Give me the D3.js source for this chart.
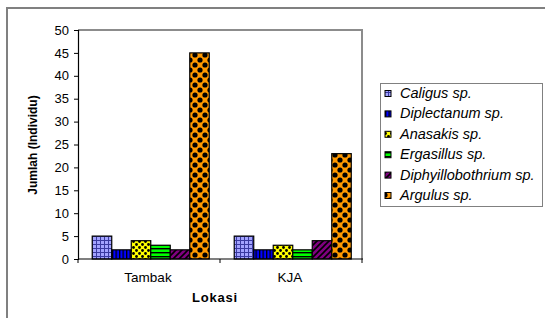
<!DOCTYPE html>
<html><head><meta charset="utf-8">
<script src="https://cdn.jsdelivr.net/npm/d3@7"></script>
<style>body{margin:0;background:#fff}svg{display:block;font-family:"Liberation Sans",Arial,sans-serif}</style>
</head><body><svg id="c" width="545" height="318"></svg>
<script>
const categories = ["Tambak", "KJA"];
const series = ["Caligus sp.", "Diplectanum sp.", "Anasakis sp.", "Ergasillus sp.", "Diphyillobothrium sp.", "Argulus sp."];
const valuesTambak = [5, 2, 4, 3, 2, 45];
const valuesKJA = [5, 2, 3, 2, 4, 23];
const yTicks = [0, 5, 10, 15, 20, 25, 30, 35, 40, 45, 50];
const values = [valuesTambak, valuesKJA];

const svg = d3.select("#c");
const defs = svg.append("defs");
function pat(id, w, h, bg, draw) {
  const p = defs.append("pattern").attr("id", id).attr("patternUnits", "userSpaceOnUse").attr("width", w).attr("height", h);
  p.append("rect").attr("width", w).attr("height", h).attr("fill", bg);
  draw(p);
}
pat("p0", 4, 4, "#a3a3ff", p => p.append("path").attr("d", "M0,0.5H4M0.5,0V4").attr("stroke", "#3a3aa0").attr("stroke-width", 1));
pat("p1", 3.5, 4, "#0000ff", p => p.append("rect").attr("x", 0).attr("width", 1.3).attr("height", 4).attr("fill", "#000"));
pat("p2", 6, 6, "#ffff00", p => { p.append("circle").attr("cx", 1.5).attr("cy", 1.5).attr("r", 1.4).attr("fill", "#000"); p.append("circle").attr("cx", 4.5).attr("cy", 4.5).attr("r", 1.4).attr("fill", "#000"); });
pat("p3", 4, 4, "#00ff00", p => p.append("rect").attr("y", 0).attr("width", 4).attr("height", 1.4).attr("fill", "#000"));
pat("p4", 6, 6, "#800080", p => p.append("path").attr("d", "M-1,7L7,-1M-1,1L1,-1M5,7L7,5").attr("stroke", "#000").attr("stroke-width", 1.6));
pat("p5", 10, 10, "#ff9900", p => {
  [[0,0],[10,0],[0,10],[10,10],[5,5]].forEach(([cx,cy]) => p.append("circle").attr("cx", cx).attr("cy", cy).attr("r", 2.6).attr("fill", "#000"));
});

// outer frame
svg.append("rect").attr("x", 7).attr("y", 8).attr("width", 600).attr("height", 400).attr("fill", "none").attr("stroke", "#808080").attr("stroke-width", 2);

const L = 78, R = 362, T = 30, B = 259;
const y = d3.scaleLinear().domain([0, 50]).range([B, T]);
const x0 = d3.scaleBand().domain(categories).range([L, R]).paddingInner(0).paddingOuter(0);
const x1 = d3.scaleBand().domain(series).range([0, x0.bandwidth()]).paddingInner(0).paddingOuter(0.64).align(0.57);

// plot border (top and right gray)
svg.append("path").attr("d", `M${L},${T}H${R}V${B}`).attr("fill", "none").attr("stroke", "#8c8c8c").attr("stroke-width", 2);

// bars
const g = svg.append("g");
categories.forEach((c, ci) => {
  series.forEach((s, si) => {
    const v = values[ci][si];
    g.append("rect")
      .attr("x", x0(c) + x1(s)).attr("y", y(v))
      .attr("width", x1.bandwidth()).attr("height", y(0) - y(v))
      .attr("fill", `url(#p${si})`).attr("stroke", "#000").attr("stroke-width", 1.2);
  });
});

// y axis
const ya = svg.append("g").attr("transform", `translate(${L},0)`)
  .call(d3.axisLeft(y).tickValues(yTicks).tickSize(4).tickPadding(5));
ya.select(".domain").attr("stroke", "#000").attr("stroke-width", 1.2);
ya.selectAll(".tick line").attr("stroke", "#000");
ya.selectAll(".tick text").attr("font-size", 13).attr("fill", "#000").attr("font-family", "Liberation Sans, Arial, sans-serif");

// x axis
svg.append("line").attr("x1", L).attr("x2", R + 1).attr("y1", B).attr("y2", B).attr("stroke", "#000").attr("stroke-width", 1.2);
const bounds = [L, ...categories.map(c => x0(c) + x0.bandwidth())];
svg.selectAll(".xt").data(bounds).enter().append("line")
  .attr("x1", d => d).attr("x2", d => d).attr("y1", B).attr("y2", B + 4).attr("stroke", "#000");
svg.selectAll(".xl").data(categories).enter().append("text")
  .attr("x", d => x0(d) + x0.bandwidth() / 2 - 1).attr("y", B + 23).attr("text-anchor", "middle")
  .attr("font-size", 13.5).text(d => d);

// axis titles
svg.append("text").attr("x", 215).attr("y", 302).attr("text-anchor", "middle")
  .attr("font-size", 13).attr("font-weight", "bold").attr("letter-spacing", 0.8).text("Lokasi");
svg.append("text").attr("transform", "translate(37,145) rotate(-90)").attr("text-anchor", "middle")
  .attr("font-size", 12).attr("font-weight", "bold").text("Jumlah (Individu)");

// legend
svg.append("rect").attr("x", 380.5).attr("y", 83.5).attr("width", 162).attr("height", 123)
  .attr("fill", "#fff").attr("stroke", "#808080").attr("stroke-width", 1);
const lg = svg.append("g");
series.forEach((s, i) => {
  const yy = 93.5 + i * 20.4;
  lg.append("rect").attr("x", 385).attr("y", yy - 3).attr("width", 6).attr("height", 6)
    .attr("fill", `url(#p${i})`).attr("stroke", "#000").attr("stroke-width", 1);
  lg.append("text").attr("x", 400).attr("y", yy + 4.5).attr("font-size", 14.5).attr("font-style", "italic").text(s);
});
</script></body></html>
